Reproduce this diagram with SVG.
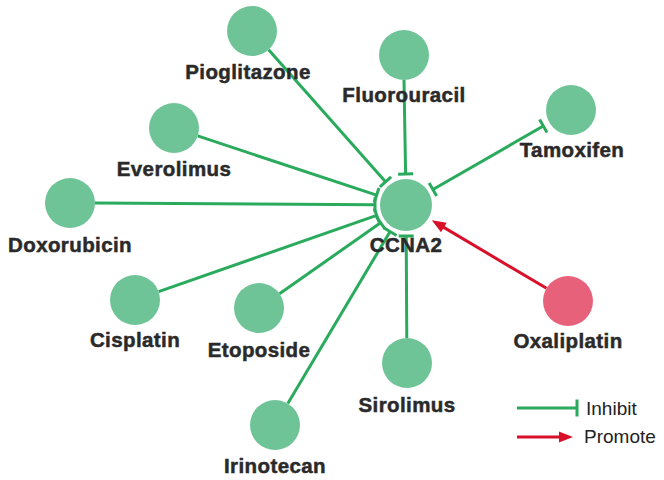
<svg xmlns="http://www.w3.org/2000/svg" width="664" height="480" viewBox="0 0 664 480">
<defs>
<style>
.node{fill:#6fc497}
.promo{fill:#e8617b}
.lbl{font-family:"Liberation Sans",Arial,sans-serif;font-weight:bold;font-size:20.5px;fill:#2a2a2a;stroke:#2a2a2a;stroke-width:0.5px;text-anchor:middle;letter-spacing:0.4px}
.leg{font-family:"Liberation Sans",Arial,sans-serif;font-size:19px;fill:#222}
.inh{stroke:#2aaa5c;stroke-width:3;fill:none}
.pro{stroke:#d8102a;stroke-width:3;fill:none}
</style>
<marker id="tbar" markerUnits="userSpaceOnUse" orient="auto" refX="0" refY="0" markerWidth="4" markerHeight="18" viewBox="-2 -9 4 18" overflow="visible">
<path d="M0,-7.5 L0,7.5" stroke="#2aaa5c" stroke-width="3"/>
</marker>
<marker id="tbarL" markerUnits="userSpaceOnUse" orient="auto" refX="0" refY="0" markerWidth="4" markerHeight="20" viewBox="-2 -10 4 20" overflow="visible">
<path d="M0,-8.5 L0,8.5" stroke="#2aaa5c" stroke-width="3"/>
</marker>
<marker id="arr" markerUnits="userSpaceOnUse" orient="auto" refX="4" refY="0" markerWidth="16" markerHeight="12" viewBox="0 -6 16 12" overflow="visible">
<path d="M0,-5.5 L14,0 L0,5.5 z" fill="#d8102a"/>
</marker>
</defs>
<rect width="664" height="480" fill="#ffffff"/>
<g id="connectors">
<line class="inh" x1="268.6" y1="49.7" x2="385.5" y2="181.8" marker-end="url(#tbar)"/>
<line class="inh" x1="404" y1="80" x2="405.6" y2="174" marker-end="url(#tbar)"/>
<line class="inh" x1="543.3" y1="126" x2="432.9" y2="189.5" marker-start="url(#tbar)" marker-end="url(#tbar)"/>
<line class="inh" x1="197.7" y1="135.9" x2="376.6" y2="195.2" marker-end="url(#tbar)"/>
<line class="inh" x1="95" y1="203.1" x2="375" y2="204.8" marker-end="url(#tbar)"/>
<line class="inh" x1="158.6" y1="291.7" x2="376.7" y2="215.3" marker-end="url(#tbar)"/>
<line class="inh" x1="279.5" y1="293.7" x2="380.6" y2="222.8" marker-end="url(#tbar)"/>
<line class="inh" x1="287.8" y1="403.5" x2="390.1" y2="231.6" marker-end="url(#tbar)"/>
<line class="inh" x1="406.8" y1="338" x2="406.2" y2="236" marker-end="url(#tbar)"/>
<line class="pro" x1="546.5" y1="288.3" x2="440.4" y2="225.4" marker-end="url(#arr)"/>
</g>
<g id="CCNA2"><circle class="node" cx="406" cy="205" r="26"/><text class="lbl" x="406" y="252">CCNA2</text></g>
<g id="Pioglitazone"><circle class="node" cx="252" cy="31" r="25"/><text class="lbl" x="248" y="79">Pioglitazone</text></g>
<g id="Fluorouracil"><circle class="node" cx="404" cy="55" r="25"/><text class="lbl" x="404" y="102">Fluorouracil</text></g>
<g id="Tamoxifen"><circle class="node" cx="571" cy="110" r="25"/><text class="lbl" x="572" y="157">Tamoxifen</text></g>
<g id="Everolimus"><circle class="node" cx="174" cy="128" r="25"/><text class="lbl" x="174" y="176">Everolimus</text></g>
<g id="Doxorubicin"><circle class="node" cx="70" cy="203" r="25"/><text class="lbl" x="70" y="252">Doxorubicin</text></g>
<g id="Cisplatin"><circle class="node" cx="135" cy="300" r="25"/><text class="lbl" x="135" y="347">Cisplatin</text></g>
<g id="Etoposide"><circle class="node" cx="259" cy="308" r="25"/><text class="lbl" x="259" y="357">Etoposide</text></g>
<g id="Irinotecan"><circle class="node" cx="275" cy="425" r="25"/><text class="lbl" x="275" y="473">Irinotecan</text></g>
<g id="Sirolimus"><circle class="node" cx="407" cy="363" r="25"/><text class="lbl" x="407" y="412">Sirolimus</text></g>
<g id="Oxaliplatin"><circle class="promo" cx="568" cy="301" r="25"/><text class="lbl" x="568" y="348">Oxaliplatin</text></g>
<g id="legend">
<line class="inh" x1="517" y1="408" x2="577" y2="408" marker-end="url(#tbarL)"/>
<text class="leg" x="586" y="415">Inhibit</text>
<line class="pro" x1="517" y1="437" x2="563" y2="437" marker-end="url(#arr)"/>
<text class="leg" x="584" y="443">Promote</text>
</g>
</svg>
